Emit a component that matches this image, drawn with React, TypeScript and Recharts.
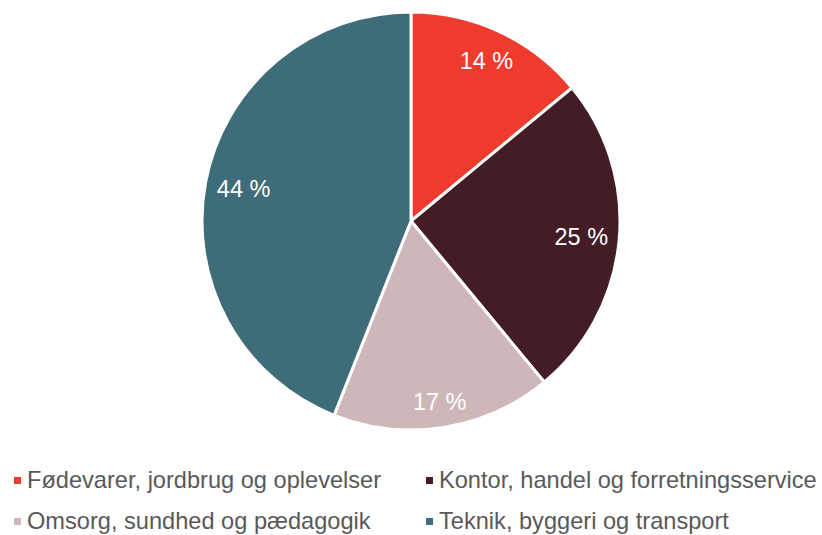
import { PieChart, Pie, Cell, Legend } from 'recharts';

const categories = [
  'Fødevarer, jordbrug og oplevelser',
  'Kontor, handel og forretningsservice',
  'Omsorg, sundhed og pædagogik',
  'Teknik, byggeri og transport',
];
const shares = [14, 25, 17, 44];
const colors = ['#EE3B2E', '#441C26', '#CFB6B9', '#3E6C78'];

const data = categories.map((name, i) => ({ name, value: shares[i] }));

const RADIAN = Math.PI / 180;

// label box kept inside the slice, roughly like Excel's best fit
const renderLabel = (props: any) => {
  const { cx, cy, midAngle, outerRadius, value } = props;
  const cos = Math.cos(-midAngle * RADIAN);
  const sin = Math.sin(-midAngle * RADIAN);
  const halfW = 26.5;
  const halfH = 11;
  const r = outerRadius - 10.5 - (Math.abs(cos) * halfW + Math.abs(sin) * halfH);
  const x = cx + r * cos;
  const y = cy + r * sin;
  return (
    <text
      x={x}
      y={y}
      fill="#ffffff"
      textAnchor="middle"
      dominantBaseline="central"
      style={{ fontSize: '23.5px', fontFamily: 'Liberation Sans, Arial, sans-serif' }}
    >
      {`${value} %`}
    </text>
  );
};

const renderLegend = () => (
  <div
    style={{
      display: 'grid',
      gridTemplateColumns: '411px 411px',
      rowGap: '18px',
      fontFamily: 'Liberation Sans, Arial, sans-serif',
      fontSize: '23.6px',
      color: '#595959',
    }}
  >
    {categories.map((name, i) => (
      <div key={name} style={{ display: 'flex', alignItems: 'center', paddingLeft: i % 2 === 0 ? 14 : 15, height: 23, whiteSpace: 'nowrap' }}>
        <span style={{ display: 'inline-block', width: 7, height: 7, background: colors[i], marginRight: 6 }} />
        <span>{name}</span>
      </div>
    ))}
  </div>
);

export default function App() {
  return (
    <div style={{ position: 'absolute', left: 0, top: 0, width: 822, height: 535, background: '#fff', overflow: 'hidden' }}>
      <PieChart width={822} height={535} margin={{ top: 0, right: 0, bottom: 0, left: 0 }}>
        <Pie
          data={data}
          dataKey="value"
          nameKey="name"
          cx={411}
          cy={221}
          outerRadius={209}
          startAngle={90}
          endAngle={-270}
          stroke="#ffffff"
          strokeWidth={3}
          label={renderLabel}
          labelLine={false}
          isAnimationActive={false}
        >
          {data.map((d, i) => (
            <Cell key={d.name} fill={colors[i]} />
          ))}
        </Pie>
        <Legend
          content={renderLegend}
          wrapperStyle={{ position: 'absolute', left: 0, top: 469, width: 822 }}
        />
      </PieChart>
    </div>
  );
}
